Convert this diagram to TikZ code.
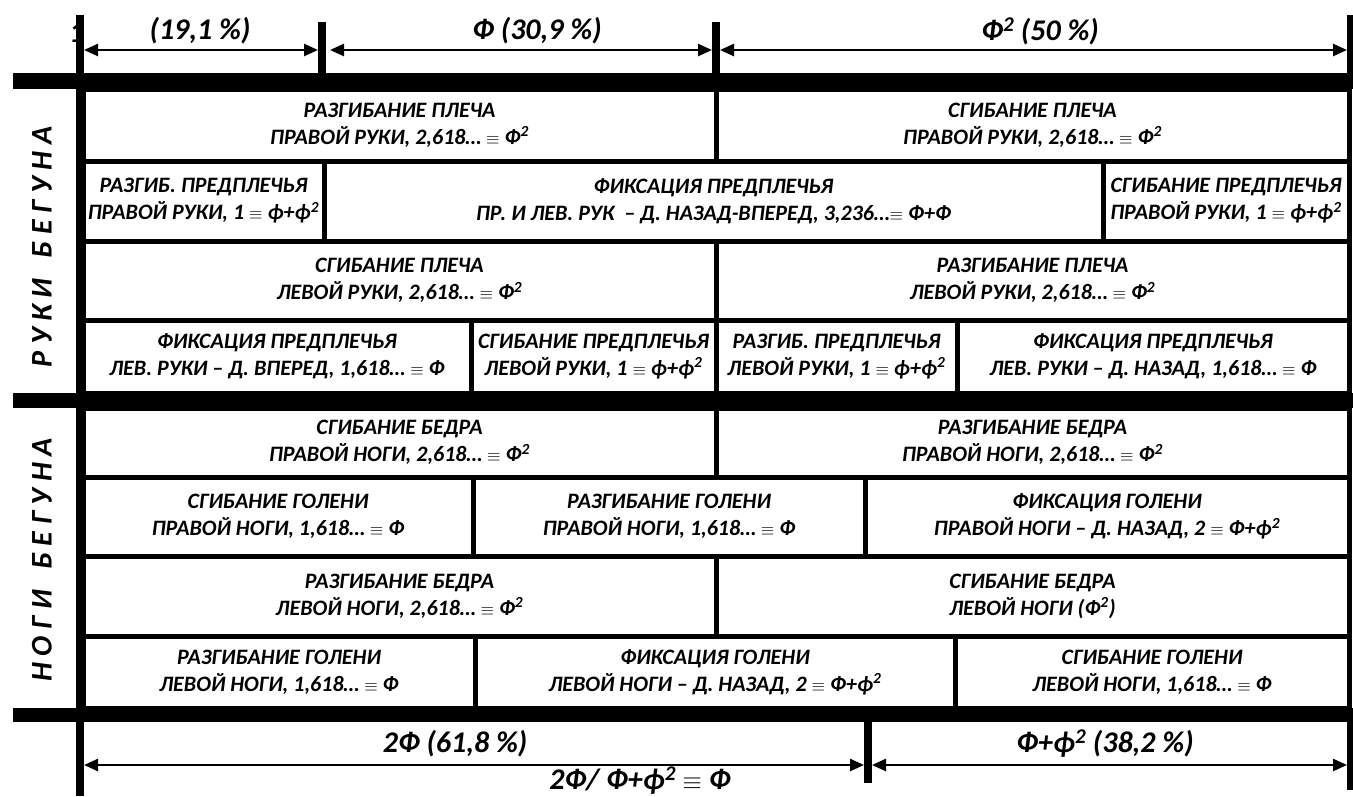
\documentclass[tikz,border=0pt]{standalone}
\usepackage{fontspec}
\setmainfont{Carlito}
\usetikzlibrary{arrows.meta}
\newcommand\eqv{{\fontsize{18}{18}\selectfont$\equiv$}}
\newcommand\sq{\textsuperscript{2}}
\newcommand\cell[6]{\node[cellbox, minimum width={(#4-#2-5)*1pt}, minimum height={(#5-#3-5)*1pt}] (#1) at ({(#2+#4)/2},{(#3+#5)/2}) {#6};}
\tikzset{
  cellbox/.style={fill=white, inner sep=0pt, align=center, font=\fontsize{22}{27}\selectfont\bfseries\itshape},
  lbl/.style={inner sep=0pt, font=\fontsize{30}{34}\selectfont\bfseries\itshape},
  side/.style={inner sep=0pt, rotate=90, font=\fontsize{30}{34}\selectfont\bfseries\itshape},
  dim/.style={line width=2.5pt, {Triangle[length=14pt,width=12pt]}-{Triangle[length=14pt,width=12pt]}},
  bar/.style={fill=black}
}
\begin{document}
\begin{tikzpicture}[x=1pt,y=-1pt]
\useasboundingbox (0,0) rectangle (1353,796);
% partial "1"
\node[lbl] (one) at (77,33) {1};
% table backdrop and bars
\fill[bar] (76,89) rectangle (1352,708);
\fill[bar] (13,73) rectangle (1353,89);
\fill[bar] (13,393) rectangle (1353,408);
\fill[bar] (13,708) rectangle (1353,722);
% vertical lines and ticks
\fill[bar] (76,15) rectangle (84,796);
\fill[bar] (318,22) rectangle (326,73);
\fill[bar] (712,22) rectangle (720,73);
\fill[bar] (1347,15) rectangle (1353,73);
\fill[bar] (864,722) rectangle (872,783);
\fill[bar] (1347,722) rectangle (1353,790);
% rows
\cell{r1a}{83}{89}{716}{161}{РАЗГИБАНИЕ ПЛЕЧА\\ПРАВОЙ РУКИ, 2,618… \eqv{} Ф\sq}
\cell{r1b}{716}{89}{1349}{161}{СГИБАНИЕ ПЛЕЧА\\ПРАВОЙ РУКИ, 2,618… \eqv{} Ф\sq}
\cell{r2a}{83}{161}{324}{241}{РАЗГИБ. ПРЕДПЛЕЧЬЯ\\ПРАВОЙ РУКИ, 1 \eqv{} ф+ф\sq}
\cell{r2b}{324}{161}{1103}{241}{ФИКСАЦИЯ ПРЕДПЛЕЧЬЯ\\ПР. И ЛЕВ. РУК \ – Д. НАЗАД-ВПЕРЕД, 3,236…\eqv{} Ф+Ф}
\cell{r2c}{1103}{161}{1349}{241}{СГИБАНИЕ ПРЕДПЛЕЧЬЯ\\ПРАВОЙ РУКИ, 1 \eqv{} ф+ф\sq}
\cell{r3a}{83}{241}{716}{320}{СГИБАНИЕ ПЛЕЧА\\ЛЕВОЙ РУКИ, 2,618… \eqv{} Ф\sq}
\cell{r3b}{716}{241}{1349}{320}{РАЗГИБАНИЕ ПЛЕЧА\\ЛЕВОЙ РУКИ, 2,618… \eqv{} Ф\sq}
\cell{r4a}{83}{320}{471}{393}{ФИКСАЦИЯ ПРЕДПЛЕЧЬЯ\\ЛЕВ. РУКИ – Д. ВПЕРЕД, 1,618… \eqv{} Ф}
\cell{r4b}{471}{320}{716}{393}{СГИБАНИЕ ПРЕДПЛЕЧЬЯ\\ЛЕВОЙ РУКИ, 1 \eqv{} ф+ф\sq}
\cell{r4c}{716}{320}{957}{393}{РАЗГИБ. ПРЕДПЛЕЧЬЯ\\ЛЕВОЙ РУКИ, 1 \eqv{} ф+ф\sq}
\cell{r4d}{957}{320}{1349}{393}{ФИКСАЦИЯ ПРЕДПЛЕЧЬЯ\\ЛЕВ. РУКИ – Д. НАЗАД, 1,618… \eqv{} Ф}
\cell{r5a}{83}{408}{716}{477}{СГИБАНИЕ БЕДРА\\ПРАВОЙ НОГИ, 2,618… \eqv{} Ф\sq}
\cell{r5b}{716}{408}{1349}{477}{РАЗГИБАНИЕ БЕДРА\\ПРАВОЙ НОГИ, 2,618… \eqv{} Ф\sq}
\cell{r6a}{83}{477}{473}{556}{СГИБАНИЕ ГОЛЕНИ\\ПРАВОЙ НОГИ, 1,618… \eqv{} Ф}
\cell{r6b}{473}{477}{865}{556}{РАЗГИБАНИЕ ГОЛЕНИ\\ПРАВОЙ НОГИ, 1,618… \eqv{} Ф}
\cell{r6c}{865}{477}{1349}{556}{ФИКСАЦИЯ ГОЛЕНИ\\ПРАВОЙ НОГИ – Д. НАЗАД, 2 \eqv{} Ф+ф\sq}
\cell{r7a}{83}{556}{716}{636}{РАЗГИБАНИЕ БЕДРА\\ЛЕВОЙ НОГИ, 2,618… \eqv{} Ф\sq}
\cell{r7b}{716}{556}{1349}{636}{СГИБАНИЕ БЕДРА\\ЛЕВОЙ НОГИ (Ф\sq)}
\cell{r8a}{83}{636}{475}{708}{РАЗГИБАНИЕ ГОЛЕНИ\\ЛЕВОЙ НОГИ, 1,618… \eqv{} Ф}
\cell{r8b}{475}{636}{955}{708}{ФИКСАЦИЯ ГОЛЕНИ\\ЛЕВОЙ НОГИ – Д. НАЗАД, 2 \eqv{} Ф+ф\sq}
\cell{r8c}{955}{636}{1349}{708}{СГИБАНИЕ ГОЛЕНИ\\ЛЕВОЙ НОГИ, 1,618… \eqv{} Ф}
% side labels
\node[side] (arms) at (42,247) {Р У К И \ \ Б Е Г У Н А};
\node[side] (legs) at (42,560) {Н О Г И \ \ Б Е Г У Н А};
% top dimension arrows
\coordinate (t1) at (84,50); \coordinate (t2) at (318,50);
\coordinate (t3) at (330,50); \coordinate (t4) at (712,50);
\coordinate (t5) at (720,50); \coordinate (t6) at (1347,50);
\draw[dim] (t1) -- (t2);
\draw[dim] (t3) -- (t4);
\draw[dim] (t5) -- (t6);
\node[lbl] (p1) at (200,31) {(19,1 \%)};
\node[lbl] (p2) at (537,31) {Ф (30,9 \%)};
\node[lbl] (p3) at (1040,31) {Ф\sq{} (50 \%)};
% bottom dimension arrows
\coordinate (b1) at (84,765); \coordinate (b2) at (864,765);
\coordinate (b3) at (872,765); \coordinate (b4) at (1347,765);
\draw[dim] (b1) -- (b2);
\draw[dim] (b3) -- (b4);
\node[lbl] (q1) at (455,744) {2Ф (61,8 \%)};
\node[lbl] (q2) at (1105,744) {Ф+ф\sq{} (38,2 \%)};
\node[lbl] (q3) at (640,781) {2Ф/ Ф+ф\sq{} {\fontsize{26}{26}\selectfont$\equiv$} Ф};
\end{tikzpicture}
\end{document}
